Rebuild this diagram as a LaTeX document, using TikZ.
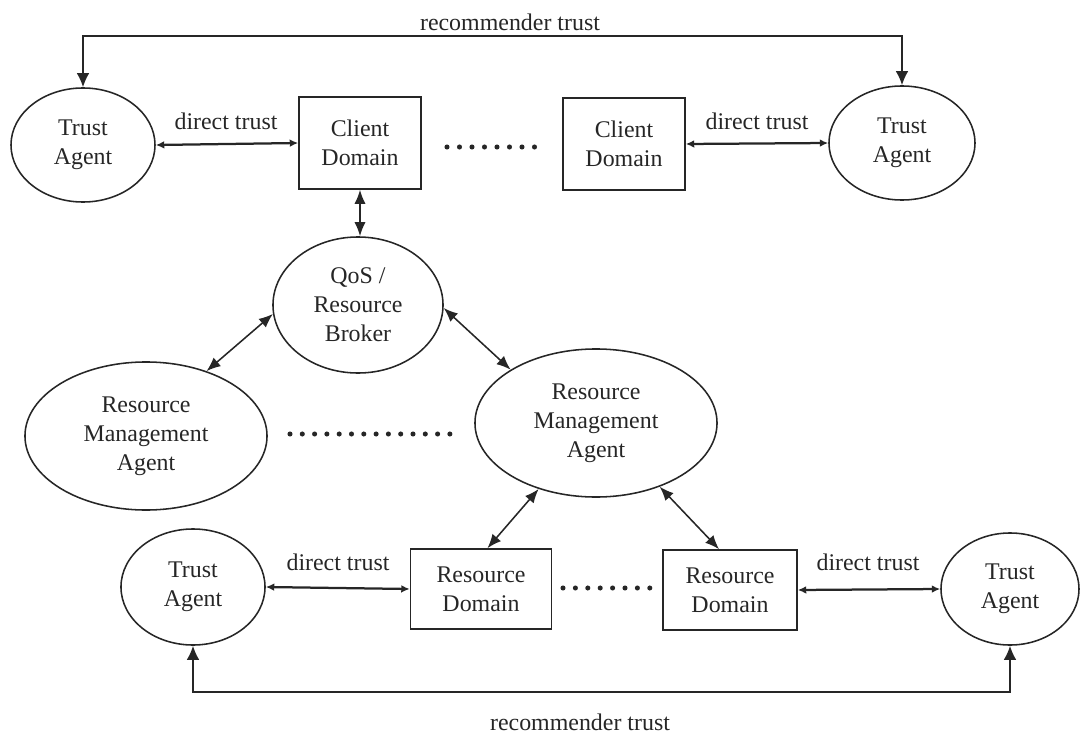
\documentclass[tikz,border=0pt]{standalone}
\usepackage{fontspec}
\setmainfont{Liberation Serif}
\usetikzlibrary{shapes.geometric,arrows.meta}
\begin{document}
\begin{tikzpicture}[x=0.025cm,y=-0.025cm,
  every node/.style={font=\fontsize{17}{20.5}\selectfont, align=center, text=black!85},
  agentell/.style={ellipse, draw=black!85, line width=1.1pt, inner sep=0pt},
  dombox/.style={rectangle, draw=black!85, line width=1.1pt, inner sep=0pt},
  lbl/.style={inner sep=0pt},
  rec/.style={draw=black!85, line width=1.1pt, {Latex[length=10pt,width=9pt]}-{Latex[length=10pt,width=9pt]}},
  link/.style={draw=black!85, line width=1.1pt, {Latex[length=10pt,width=8pt]}-{Latex[length=10pt,width=8pt]}},
  direct/.style={draw=black!85, line width=1.6pt, {Latex[length=6pt,width=5.5pt]}-{Latex[length=6pt,width=5.5pt]}},
  dotfill/.style={fill=black!85}
]
\useasboundingbox (0,0) rectangle (1080,736);

% nodes
\node[agentell, minimum width=3.6cm, minimum height=2.85cm] (ta1) at (83,145) {Trust\\Agent};
\node[dombox, minimum width=3.05cm, minimum height=2.3cm] (cd1) at (360,143) {Client\\Domain};
\node[dombox, minimum width=3.05cm, minimum height=2.3cm] (cd2) at (624,144) {Client\\Domain};
\node[agentell, minimum width=3.65cm, minimum height=2.85cm] (ta2) at (902,143) {Trust\\Agent};
\node[agentell, minimum width=4.25cm, minimum height=3.4cm] (qos) at (358,305) {QoS /\\Resource\\Broker};
\node[agentell, minimum width=6.05cm, minimum height=3.7cm] (rma1) at (146,436) {Resource\\Management\\Agent};
\node[agentell, minimum width=6.05cm, minimum height=3.7cm] (rma2) at (596,423) {Resource\\Management\\Agent};
\node[agentell, minimum width=3.6cm, minimum height=2.9cm] (ta3) at (193,587) {Trust\\Agent};
\node[dombox, minimum width=3.525cm, minimum height=2cm] (rd1) at (481,589) {Resource\\Domain};
\node[dombox, minimum width=3.35cm, minimum height=2cm] (rd2) at (730,590) {Resource\\Domain};
\node[agentell, minimum width=3.45cm, minimum height=2.8cm] (ta4) at (1010,589) {Trust\\Agent};

% labels
\node[lbl] (dt1) at (226,121) {direct trust};
\node[lbl] (dt2) at (757,121) {direct trust};
\node[lbl] (dt3) at (338,562) {direct trust};
\node[lbl] (dt4) at (868,562) {direct trust};
\node[lbl] (rt1) at (510,22) {recommender trust};
\node[lbl] (rt2) at (580,722) {recommender trust};

% recommender trust connectors
\coordinate (topy) at (0,36);
\coordinate (boty) at (0,692);
\draw[rec] (ta1.north) -- (ta1.north |- topy) -- (ta2.north |- topy) -- (ta2.north);
\draw[rec] (ta3.south) -- (ta3.south |- boty) -- (ta4.south |- boty) -- (ta4.south);

% direct trust connectors
\draw[direct] (ta1.east) -- (cd1.west);
\draw[direct] (cd2.east) -- (ta2.west);
\draw[direct] (ta3.east) -- (rd1.west);
\draw[direct] (rd2.east) -- (ta4.west);

% other links
\draw[link] (cd1.south) -- (cd1.south |- qos.north);
\draw[link] (qos.186) -- (rma1.47);
\draw[link] (qos.358) -- (rma2.148);
\draw[link] (rma2.229) -- (rd1.81);
\draw[link] (rma2.315) -- (rd2.105);

% dots
\foreach \i in {0,...,7} \fill[dotfill] ({447+\i*12.5},147) circle (1.8pt);
\foreach \i in {0,...,13} \fill[dotfill] ({290+\i*12.3},434) circle (1.8pt);
\foreach \i in {0,...,7} \fill[dotfill] ({563+\i*12.4},588) circle (1.8pt);
\end{tikzpicture}
\end{document}
